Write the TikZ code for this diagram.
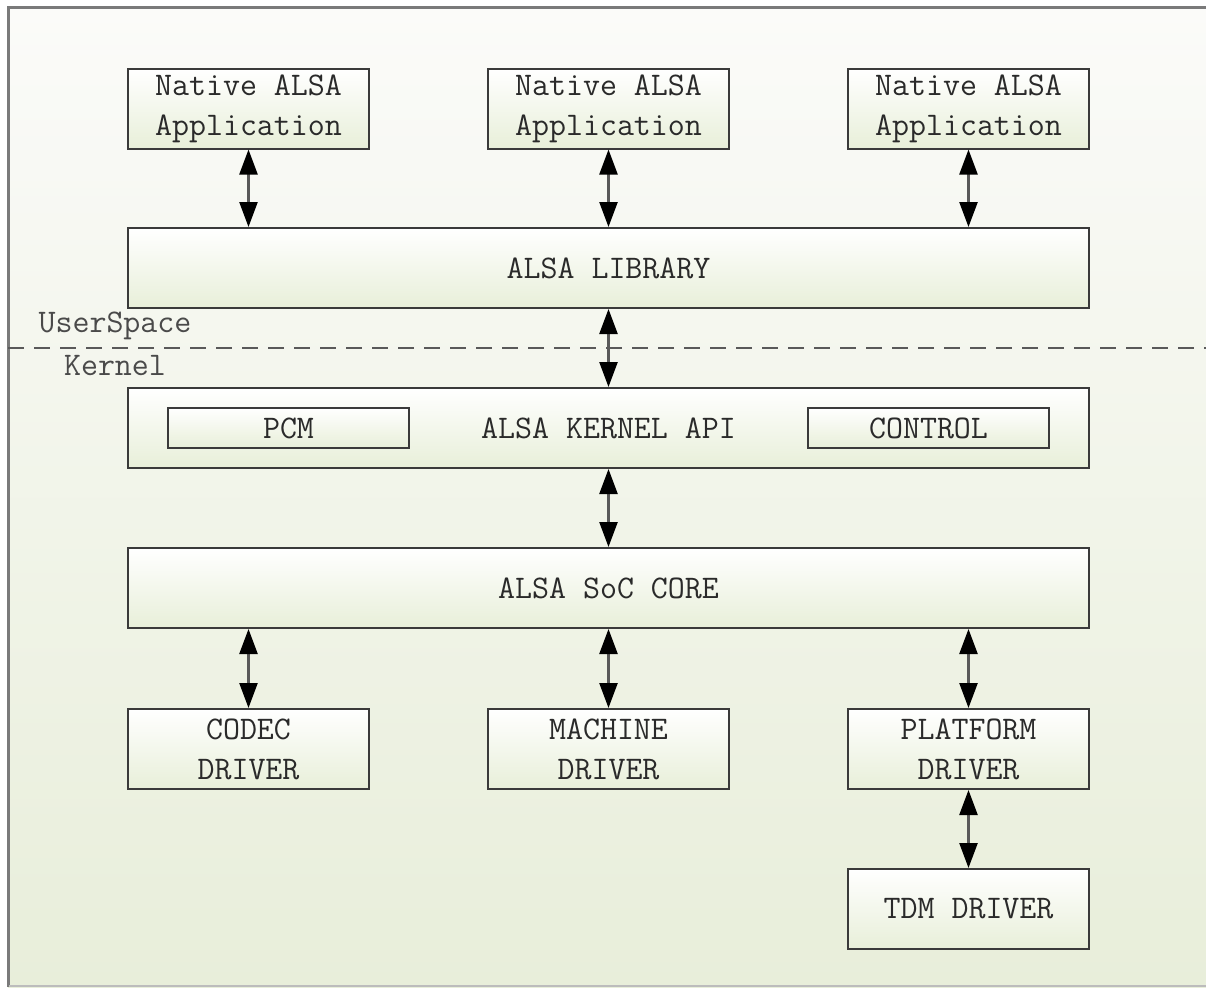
\documentclass[tikz,border=0pt]{standalone}
\usepackage{fontspec}
\usepackage{tikz}
\usetikzlibrary{arrows.meta,positioning}
\definecolor{boxline}{HTML}{3A3A3A}
\definecolor{boxgreen}{HTML}{E8EFD9}
\definecolor{bgtop}{HTML}{FBFBF9}
\definecolor{bgbottom}{HTML}{E8EEDA}
\definecolor{textgray}{HTML}{2A2A2A}
\definecolor{framegray}{HTML}{7A7A7A}
\tikzstyle{layer} = [draw=boxline, line width=1pt, top color=white,
    bottom color=boxgreen, rectangle, inner sep=0pt, minimum height=40pt,
    text=textgray, font={\ttfamily\fontsize{16.5}{20}\selectfont}, align=center]
\tikzstyle{appbox} = [layer, minimum width=120.5pt]
\tikzstyle{widebox} = [layer, minimum width=480.5pt]
\tikzstyle{subbox} = [layer, minimum width=120.5pt, minimum height=20pt]
\tikzstyle{link} = [{Triangle[length=12.5pt,width=9pt,color=black]}-{Triangle[length=12.5pt,width=9pt,color=black]},
    line width=1.2pt, draw=black!65]
\tikzstyle{spacelabel} = [text=textgray!85, font={\ttfamily\fontsize{16.5}{20}\selectfont}, inner sep=0pt]

\begin{document}
\begin{tikzpicture}[x=0.5pt, y=-0.5pt]
    \useasboundingbox (0,0) rectangle (1206,987);
    % background and frame
    \shade[top color=bgtop, bottom color=bgbottom] (8,7) rectangle (1206,987);
    \draw[framegray, line width=1.5pt] (8.5,987) -- (8.5,7.5) -- (1206,7.5);
    \draw[framegray!50, line width=1pt] (8.5,985.5) -- (1206,985.5);

    % applications
    \node [appbox] (app1) at (248.5,108.5) {Native ALSA\\Application};
    \node [appbox] (app2) at (608.5,108.5) {Native ALSA\\Application};
    \node [appbox] (app3) at (968.5,108.5) {Native ALSA\\Application};

    \node [widebox] (lib) at (608.5,268) {ALSA LIBRARY};

    % user / kernel border
    \coordinate (sepL) at (8,348);
    \coordinate (sepR) at (1206,348);
    \draw[dashed, dash pattern=on 8pt off 5pt, line width=1pt, draw=black!65] (sepL) -- (sepR);
    \node [spacelabel] (user) at (115,326) {UserSpace};
    \node [spacelabel] (kern) at (115,366) {Kernel};

    \node [widebox] (api) at (608.5,428) {ALSA KERNEL API};
    \node [subbox] (pcm) at (288.5,428) {PCM};
    \node [subbox] (ctl) at (928.5,428) {CONTROL};

    \node [widebox] (soc) at (608.5,588) {ALSA SoC CORE};

    % drivers
    \node [appbox] (codec) at (248.5,749) {CODEC\\DRIVER};
    \node [appbox] (mach) at (608.5,749) {MACHINE\\DRIVER};
    \node [appbox] (plat) at (968.5,749) {PLATFORM\\DRIVER};
    \node [appbox] (tdm) at (968.5,909) {TDM DRIVER};

    \draw[link] (app1.south) -- (app1.south |- lib.north);
    \draw[link] (app2.south) -- (app2.south |- lib.north);
    \draw[link] (app3.south) -- (app3.south |- lib.north);
    \draw[link] (lib.south) -- (api.north);
    \draw[link] (api.south) -- (soc.north);
    \draw[link] (codec.north |- soc.south) -- (codec.north);
    \draw[link] (mach.north |- soc.south) -- (mach.north);
    \draw[link] (plat.north |- soc.south) -- (plat.north);
    \draw[link] (plat.south) -- (tdm.north);
\end{tikzpicture}
\end{document}
